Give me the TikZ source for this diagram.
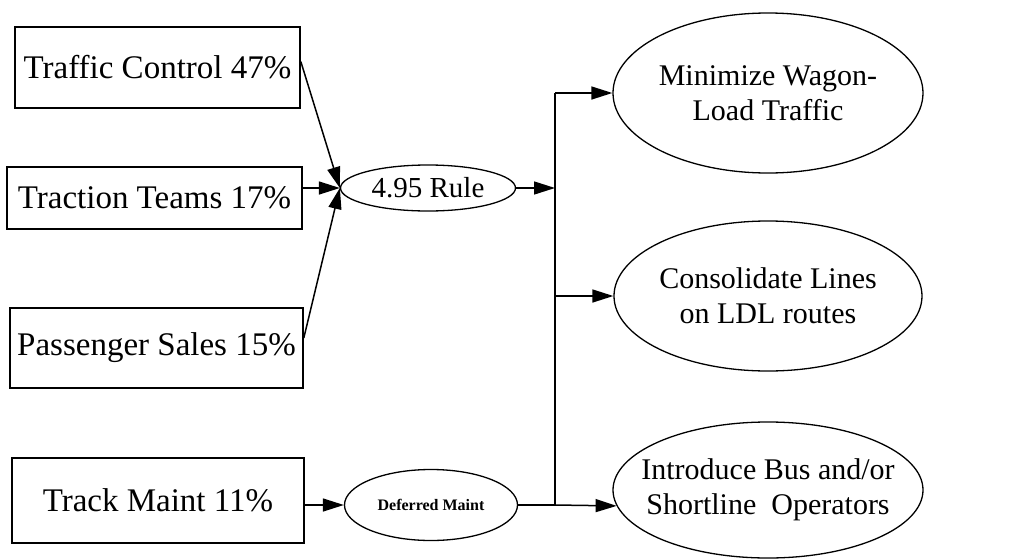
\documentclass[tikz,border=0pt]{standalone}
\usepackage{fontspec}
\setmainfont{Liberation Serif}
\usetikzlibrary{arrows.meta,shapes.geometric,calc}
\begin{document}
\begin{tikzpicture}[x=1pt,y=-1pt,
  box/.style={draw,line width=1.6pt,rectangle,inner sep=0pt,font=\fontsize{33}{38}\selectfont},
  oval/.style={draw,line width=1.3pt,ellipse,inner sep=-20pt,align=center},
  conn/.style={line width=1.5pt,-{Triangle[length=21pt,width=13pt]}},
  plain/.style={line width=1.5pt}]
\useasboundingbox (0,0) rectangle (1021,560);
\node[box,minimum width=285pt,minimum height=81pt] (traffic) at (157.5,67.5) {Traffic Control 47\%};
\node[box,minimum width=295pt,minimum height=62pt] (traction) at (154.5,198) {Traction Teams 17\%};
\node[box,minimum width=293pt,minimum height=80pt] (passenger) at (156.5,348) {Passenger Sales 15\%};
\node[box,minimum width=292pt,minimum height=85pt] (track) at (158,500.5) {Track Maint 11\%};
\node[oval,minimum width=175pt,minimum height=46pt,font=\fontsize{29}{33}\selectfont] (rule) at (428,188) {4.95 Rule};
\node[oval,minimum width=173pt,minimum height=71pt,font=\fontsize{16}{19}\selectfont\bfseries] (deferred) at (431,505) {Deferred Maint};
\node[oval,minimum width=310pt,minimum height=160pt,font=\fontsize{30}{35}\selectfont] (minimize) at (768,93) {Minimize Wagon-\\Load Traffic};
\node[oval,minimum width=308pt,minimum height=150pt,font=\fontsize{30}{35}\selectfont] (consol) at (768,296) {Consolidate Lines\\on LDL routes};
\node[oval,minimum width=310pt,minimum height=136pt,font=\fontsize{30}{35}\selectfont] (intro) at (768,490) {Introduce Bus and/or\\Shortline\ \ Operators};
\coordinate (j0) at (555,93);
\coordinate (j1) at (555,188);
\coordinate (j2) at (555,296);
\coordinate (j3) at (555,505);
\draw[conn] ($(traffic.east)+(0,-6)$) -- (rule.west);
\draw[conn] (traction.east |- rule.west) -- (rule.west);
\draw[conn] ($(passenger.east)+(0,-10)$) -- (rule.west);
\draw[conn] (track.east |- deferred.west) -- (deferred.west);
\draw[conn] (rule.east) -- (j1);
\draw[line width=2pt] (j0) -- (j3);
\draw[plain] (deferred.east) -- (j3);
\draw[conn] (j0) -- (minimize.west);
\draw[conn] (j2) -- (consol.west);
\draw[conn] (j3) -- (intro.186);
\end{tikzpicture}
\end{document}
